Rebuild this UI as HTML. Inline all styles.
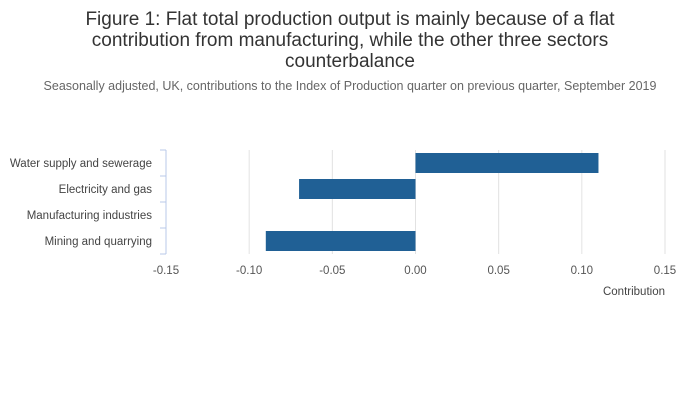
<!DOCTYPE html>
<html><head><meta charset="utf-8"><style>
body{margin:0;background:#fff;font-family:"Liberation Sans",sans-serif;}
</style></head><body>
<svg width="700" height="404" xmlns="http://www.w3.org/2000/svg" font-family="Liberation Sans, sans-serif">
<text x="350" y="25" text-anchor="middle" font-size="19" fill="#333">Figure 1: Flat total production output is mainly because of a flat</text>
<text x="350" y="46" text-anchor="middle" font-size="19" fill="#333">contribution from manufacturing, while the other three sectors</text>
<text x="350" y="67" text-anchor="middle" font-size="19" fill="#333">counterbalance</text>
<text x="350" y="90" text-anchor="middle" font-size="12.5" fill="#666">Seasonally adjusted, UK, contributions to the Index of Production quarter on previous quarter, September 2019</text>
<g id="grid"></g><g id="bars"></g><g id="axes"></g>
<text x="665" y="295" text-anchor="end" font-size="11.5" fill="#444">Contribution</text>
</svg>
<script>
const categories=["Water supply and sewerage","Electricity and gas","Manufacturing industries","Mining and quarrying"];
const values=[0.11,-0.07,0,-0.09];
const tickList=[-0.15,-0.1,-0.05,0,0.05,0.1,0.15];
const NS="http://www.w3.org/2000/svg";
const plotX0=166,plotX1=665,plotTop=150,rowH=26;
const xs=v=>plotX0+(v+0.15)/0.3*(plotX1-plotX0);
const ys=i=>plotTop+i*rowH;
function mk(t,a,p){const e=document.createElementNS(NS,t);for(const k in a)e.setAttribute(k,a[k]);document.getElementById(p).appendChild(e);return e;}
tickList.forEach(v=>{
  if(v>-0.15){const g=mk('line',{x1:xs(v),x2:xs(v),y1:plotTop,y2:plotTop+rowH*categories.length,stroke:'#e2e2e2'},'grid');
  
  }
  const t=mk('text',{x:xs(v),y:274,'text-anchor':'middle','font-size':11.5,fill:'#555'},'axes');
  t.textContent=v.toFixed(2);
  
  
});
values.forEach((v,i)=>{
  const r=mk('rect',{x:Math.min(xs(0),xs(v)),y:ys(i)+3,width:Math.abs(xs(v)-xs(0)),height:20,fill:'#206095'},'bars');
  
  
  const t=mk('text',{x:152,y:ys(i)+17,'text-anchor':'end','font-size':11.5,fill:'#444'},'axes');
  t.textContent=categories[i];
  
  
});
const ax=mk('line',{x1:plotX0,x2:plotX0,y1:plotTop,y2:plotTop+rowH*categories.length,stroke:'#b8c8e8'},'axes');


for(let i=0;i<=categories.length;i++){
  const tk=mk('line',{x1:plotX0-6,x2:plotX0,y1:ys(i),y2:ys(i),stroke:'#b8c8e8'},'axes');
  
  
}
</script>
</body></html>
